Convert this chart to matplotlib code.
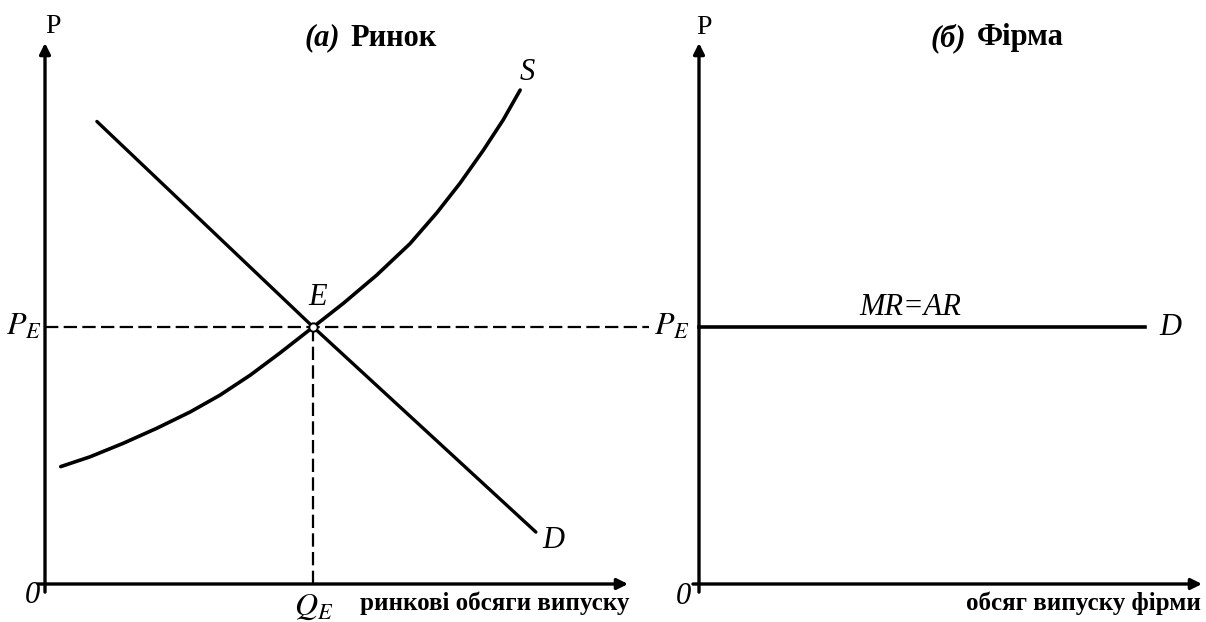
import matplotlib
matplotlib.use("Agg")
import matplotlib.pyplot as plt

plt.rcParams['font.family'] = ['Liberation Serif', 'DejaVu Serif']
plt.rcParams['mathtext.fontset'] = 'stix'

# ринок: крива пропозиції S (Q, P)
q_s = [0.27, 0.77, 1.34, 1.92, 2.49, 3.00, 3.52, 4.03, 4.60, 5.12, 5.69, 6.26, 6.72, 7.12, 7.52, 7.86, 8.15]
p_s = [2.17, 2.35, 2.60, 2.88, 3.18, 3.49, 3.86, 4.27, 4.75, 5.19, 5.71, 6.29, 6.86, 7.41, 8.02, 8.58, 9.13]
# крива попиту D
q_d = [0.89, 4.60, 8.42]
p_d = [8.55, 4.75, 0.96]
# рівновага
q_e = 4.60
p_e = 4.75
# фірма: горизонтальна лінія попиту MR=AR
q_firm = [0.0, 8.87]

W, H = 1206, 622
fig = plt.figure(figsize=(W / 100, H / 100), dpi=100)

def make_ax(x0, x1, ytop, ybot):
    ax = fig.add_axes([x0 / W, (H - ybot) / H, (x1 - x0) / W, (ybot - ytop) / H])
    ax.set_xlim(0, 10)
    ax.set_ylim(0, 10)
    ax.axis('off')
    return ax

axL = make_ax(45, 628, 43, 584)
axR = make_ax(699, 1202, 43, 584)

arrow = dict(arrowstyle='-|>', lw=2.4, color='black', mutation_scale=16, shrinkA=0, shrinkB=0)
for ax in (axL, axR):
    ax.annotate('', xy=(10.0, 0), xytext=(-0.12, 0), arrowprops=arrow, annotation_clip=False)
    ax.annotate('', xy=(0, 10.0), xytext=(0, -0.15), arrowprops=arrow, annotation_clip=False)

# (а) ринок
axL.plot(q_s, p_s, color='black', lw=2.6, solid_capstyle='round', solid_joinstyle='round', clip_on=False)
axL.plot(q_d, p_d, color='black', lw=2.4, solid_capstyle='round', clip_on=False)
axL.plot([0, 10.36], [p_e, p_e], color='black', lw=1.6, dashes=(6, 2.4), clip_on=False)
axL.plot([q_e, q_e], [0, p_e], color='black', lw=1.6, dashes=(6, 2.4), clip_on=False)
axL.plot([q_e], [p_e], marker='o', ms=6, mfc='white', mec='black', mew=1.4, clip_on=False)

it = dict(style='italic', fontsize=22)
axL.text(0.14, 10.3, 'P', fontsize=20, ha='center', va='center')
axL.text(8.27, 9.46, 'S', ha='center', va='center', **it)
axL.text(4.68, 5.29, 'E', ha='center', va='center', **it)
axL.text(8.72, 0.81, 'D', ha='center', va='center', **it)
axL.text(-0.05, p_e, '$P_E$', ha='right', va='center', fontsize=23)
axL.text(-0.22, -0.22, '0', ha='center', va='center', **it)
axL.text(q_e, -0.16, '$Q_E$', ha='center', va='top', fontsize=23)
axL.text(10.03, -0.36, 'ринкові обсяги випуску', ha='right', va='center',
         fontsize=18, fontweight='bold')

# (б) фірма
axR.plot(q_firm, [p_e, p_e], color='black', lw=2.6, clip_on=False)
axR.text(0.1, 10.28, 'P', fontsize=20, ha='center', va='center')
axR.text(4.21, 5.12, 'MR=AR', ha='center', va='center', **it)
axR.text(9.38, p_e, 'D', ha='center', va='center', **it)
axR.text(-0.18, p_e, '$P_E$', ha='right', va='center', fontsize=23)
axR.text(-0.30, -0.24, '0', ha='center', va='center', **it)
axR.text(9.98, -0.36, 'обсяг випуску фірми', ha='right', va='center',
         fontsize=18, fontweight='bold')

# заголовки
fig.text(340 / W, 1 - 38 / H, '(а)', ha='right', va='center', fontsize=22,
         style='italic', fontweight='bold')
fig.text(350 / W, 1 - 38 / H, 'Ринок', ha='left', va='center', fontsize=22, fontweight='bold')
fig.text(966 / W, 1 - 38 / H, '(б)', ha='right', va='center', fontsize=22,
         style='italic', fontweight='bold')
fig.text(977 / W, 1 - 38 / H, 'Фірма', ha='left', va='center', fontsize=22, fontweight='bold')

fig.savefig('out.png', dpi=100, facecolor='white')
